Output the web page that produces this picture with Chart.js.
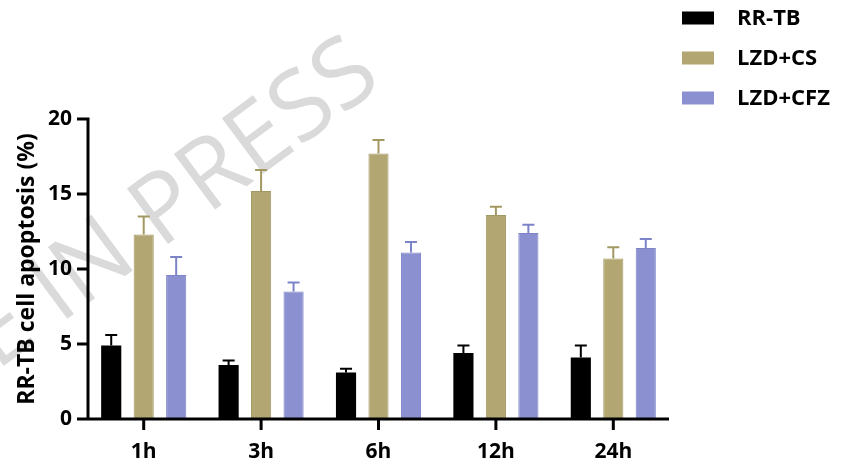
<!DOCTYPE html>
<html>
<head>
<meta charset="utf-8">
<style>
  html, body { margin: 0; padding: 0; background: #ffffff; }
  #wrap { width: 855px; height: 464px; }
</style>
<script src="https://cdn.jsdelivr.net/npm/chart.js@4/dist/chart.umd.min.js"></script>
</head>
<body>
<div id="wrap"><canvas id="c" width="855" height="464"></canvas></div>
<script>
// Time points after treatment
const timePoints = ['1h', '3h', '6h', '12h', '24h'];

// Mean apoptosis rate (%) and SD for each group
const rrtb      = [4.9, 3.6, 3.1, 4.4, 4.1];
const rrtbSd    = [0.7, 0.3, 0.25, 0.5, 0.8];
const lzdCs     = [12.3, 15.2, 17.7, 13.6, 10.7];
const lzdCsSd   = [1.2, 1.4, 0.9, 0.55, 0.75];
const lzdCfz    = [9.6, 8.5, 11.1, 12.4, 11.4];
const lzdCfzSd  = [1.2, 0.6, 0.7, 0.55, 0.6];

const seriesNames = ['RR-TB', 'LZD+CS', 'LZD+CFZ'];
const yTicks = [0, 5, 10, 15, 20];

const FONT = '"Open Sans", "Noto Sans", sans-serif';

// Upward error bars (mean + SD) on every bar
const errorBars = {
  id: 'errorBars',
  afterDatasetsDraw(chart) {
    const ctx = chart.ctx;
    const y = chart.scales.y;
    chart.data.datasets.forEach((ds, i) => {
      const meta = chart.getDatasetMeta(i);
      meta.data.forEach((bar, j) => {
        const top = y.getPixelForValue(ds.data[j] + ds.errors[j]);
        ctx.save();
        ctx.strokeStyle = ds.errColor;
        ctx.lineWidth = 2;
        ctx.beginPath();
        ctx.moveTo(bar.x, bar.y);
        ctx.lineTo(bar.x, top);
        ctx.moveTo(bar.x - 6, top);
        ctx.lineTo(bar.x + 6, top);
        ctx.stroke();
        ctx.restore();
      });
    });
  }
};

// Thick L-shaped axes with outward tick marks
const axesLines = {
  id: 'axesLines',
  afterDraw(chart) {
    const ctx = chart.ctx;
    const area = chart.chartArea;
    const xs = chart.scales.x, ys = chart.scales.y;
    const axisX = area.left + 3;
    const axisY = ys.getPixelForValue(0);
    ctx.save();
    ctx.strokeStyle = '#000';
    ctx.lineWidth = 3;
    ctx.lineCap = 'butt';
    ctx.beginPath();
    ctx.moveTo(axisX, ys.getPixelForValue(yTicks[yTicks.length - 1]) - 1.5);
    ctx.lineTo(axisX, axisY);
    ctx.moveTo(axisX - 11, axisY);
    ctx.lineTo(area.right - 3, axisY);
    yTicks.forEach(v => {
      const py = ys.getPixelForValue(v);
      ctx.moveTo(axisX - 11, py);
      ctx.lineTo(axisX, py);
    });
    timePoints.forEach((t, i) => {
      const px = xs.getPixelForTick(i);
      ctx.moveTo(px, axisY);
      ctx.lineTo(px, axisY + 11);
    });
    ctx.stroke();
    ctx.restore();
  }
};

// Legend column at the upper right
const sideLegend = {
  id: 'sideLegend',
  afterDraw(chart) {
    const ctx = chart.ctx;
    ctx.save();
    chart.data.datasets.forEach((ds, i) => {
      const cy = 18 + i * 40;
      ctx.fillStyle = ds.backgroundColor;
      ctx.fillRect(682, cy - 6.5, 32, 13);
      ctx.fillStyle = '#000';
      ctx.font = 'bold 22px ' + FONT;
      ctx.textAlign = 'left';
      ctx.textBaseline = 'middle';
      ctx.fillText(ds.label, 737, cy + 1);
    });
    ctx.restore();
  }
};

// Diagonal status watermark behind everything else
const watermark = {
  id: 'watermark',
  beforeDraw(chart) {
    const ctx = chart.ctx;
    ctx.save();
    ctx.translate(368, 62);
    ctx.rotate(-36.5 * Math.PI / 180);
    ctx.fillStyle = '#dadada';
    ctx.font = '400 97px ' + FONT;
    ctx.textAlign = 'right';
    ctx.textBaseline = 'middle';
    ctx.fillText('ARTICLE IN PRESS', 0, 0);
    ctx.restore();
  }
};

function build() {
  new Chart(document.getElementById('c'), {
    type: 'bar',
    data: {
      labels: timePoints,
      datasets: [
        { label: seriesNames[0], data: rrtb, errors: rrtbSd,
          backgroundColor: '#000000', borderColor: '#000000', borderWidth: 0, errColor: '#000000' },
        { label: seriesNames[1], data: lzdCs, errors: lzdCsSd,
          backgroundColor: '#b2a772', borderColor: '#a39862', borderWidth: 1, errColor: '#a39862' },
        { label: seriesNames[2], data: lzdCfz, errors: lzdCfzSd,
          backgroundColor: '#8b91d0', borderColor: '#7c83c9', borderWidth: 1, errColor: '#7c83c9' }
      ]
    },
    options: {
      responsive: false,
      animation: false,
      devicePixelRatio: 1,
      layout: { padding: { top: 119, right: 183, left: 0, bottom: 0 } },
      datasets: { bar: { categoryPercentage: 0.83, barPercentage: 0.62 } },
      plugins: { legend: { display: false }, tooltip: { enabled: false } },
      scales: {
        x: {
          grid: { display: false, drawTicks: false },
          border: { display: false },
          ticks: { color: '#000', font: { family: FONT, size: 21, weight: 'bold' }, padding: 20 },
          afterFit(s) { s.height = 45; }
        },
        y: {
          min: 0, max: 20,
          afterBuildTicks(s) { s.ticks = yTicks.map(v => ({ value: v })); },
          grid: { display: false, drawTicks: false },
          border: { display: false },
          ticks: { color: '#000', font: { family: FONT, size: 21, weight: 'bold' }, padding: 13 },
          title: {
            display: true, text: 'RR-TB cell apoptosis (%)', color: '#000',
            font: { family: FONT, size: 23, weight: 'bold' },
            padding: { top: 14, bottom: 0 }
          },
          afterFit(s) { s.width = 85; }
        }
      }
    },
    plugins: [watermark, errorBars, axesLines, sideLegend]
  });
}

Promise.all([
  document.fonts.load('bold 20px "Open Sans"'),
  document.fonts.load('400 97px "Open Sans"')
]).then(build, build);
</script>
</body>
</html>
